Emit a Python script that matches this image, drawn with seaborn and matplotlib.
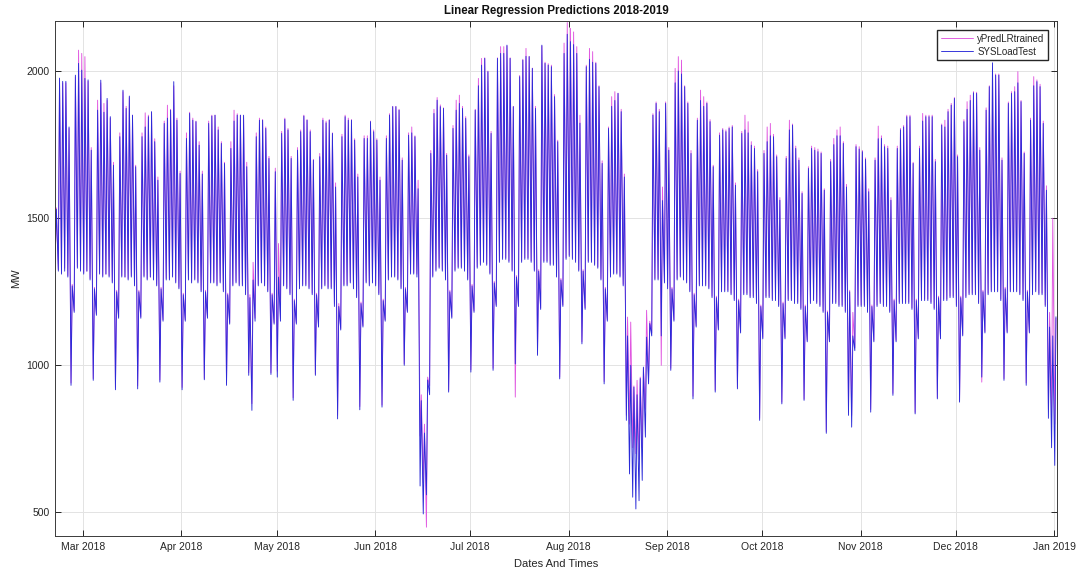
#!/usr/bin/env python3

import pandas as pd
import seaborn as sns
import matplotlib
matplotlib.use('Agg')
from matplotlib import pyplot as plt
import matplotlib.dates as mdates

# one early-morning trough and one afternoon peak per day,
# Tue 2018-02-20 .. Tue 2019-01-01, rows are weeks Mon..Sun

sys_peak = [
    1530, 1976, 1965, 1965, 1810, 1270,          # Feb 20
    1986, 2026, 2003, 1975, 1970, 1731, 1260,    # Feb 26
    1867, 1969, 1860, 1907, 1845, 1680, 1250,    # Mar 5
    1777, 1935, 1873, 1915, 1850, 1675, 1250,    # Mar 12
    1777, 1810, 1845, 1862, 1760, 1629, 1260,    # Mar 19
    1822, 1840, 1867, 1964, 1833, 1652, 1240,    # Mar 26
    1771, 1856, 1833, 1828, 1748, 1650, 1250,    # Apr 2
    1822, 1847, 1850, 1800, 1754, 1686, 1240,    # Apr 9
    1737, 1830, 1850, 1850, 1850, 1675, 1230,    # Apr 16
    1290, 1777, 1833, 1833, 1805, 1703, 1240,    # Apr 23
    1658, 1300, 1788, 1836, 1800, 1703, 1220,    # Apr 30
    1731, 1794, 1847, 1833, 1794, 1697, 1240,    # May 7
    1709, 1833, 1824, 1833, 1788, 1606, 1200,    # May 14
    1777, 1845, 1833, 1833, 1765, 1640, 1210,    # May 21
    1771, 1771, 1828, 1794, 1765, 1629, 1220,    # May 28
    1771, 1850, 1879, 1879, 1867, 1697, 1260,    # Jun 4
    1782, 1790, 1777, 1600, 880, 770, 950,       # Jun 11
    1720, 1856, 1901, 1879, 1873, 1714, 1250,    # Jun 18
    1805, 1867, 1890, 1873, 1839, 1709, 1270,    # Jun 25
    1867, 1950, 2020, 2043, 1998, 1788, 1280,    # Jul 2
    2043, 2060, 2060, 2088, 2043, 1879, 1300,    # Jul 9
    1981, 2037, 2050, 2049, 2009, 1873, 1320,    # Jul 16
    2088, 2026, 2020, 2015, 1913, 1760, 1290,    # Jul 23
    2060, 2125, 2100, 2090, 2060, 1823, 1320,    # Jul 30
    2015, 2040, 2030, 2026, 1947, 1686, 1260,    # Aug 6
    1805, 1880, 1900, 1924, 1862, 1640, 1100,    # Aug 13
    1000, 926, 900, 955, 994, 1096, 1142,        # Aug 20
    1850, 1890, 1862, 1560, 1890, 1731, 1260,    # Aug 27
    1960, 2000, 1990, 1947, 1890, 1720, 1240,    # Sep 3
    1833, 1900, 1880, 1890, 1828, 1675, 1230,    # Sep 10
    1782, 1800, 1794, 1805, 1810, 1612, 1220,    # Sep 17
    1788, 1800, 1790, 1748, 1737, 1658, 1200,    # Sep 24
    1720, 1760, 1780, 1777, 1709, 1561, 1210,    # Oct 1
    1703, 1800, 1816, 1737, 1697, 1584, 1200,    # Oct 8
    1669, 1737, 1731, 1726, 1720, 1595, 1180,    # Oct 15
    1692, 1750, 1780, 1780, 1754, 1606, 1250,    # Oct 22
    1100, 1743, 1735, 1726, 1700, 1590, 1200,    # Oct 29
    1697, 1770, 1771, 1743, 1737, 1561, 1220,    # Nov 5
    1737, 1800, 1810, 1845, 1845, 1686, 1220,    # Nov 12
    1737, 1830, 1845, 1845, 1845, 1692, 1230,    # Nov 19
    1816, 1810, 1862, 1884, 1907, 1709, 1230,    # Nov 26
    1828, 1870, 1900, 1926, 1924, 1731, 1250,    # Dec 3
    1867, 1947, 2028, 1986, 1986, 1697, 1260,    # Dec 10
    1890, 1924, 1930, 1960, 1896, 1720, 1250,    # Dec 17
    1833, 1950, 1964, 1947, 1822, 1595, 1130,    # Dec 24
    1100, 1165,                                  # Dec 31
]

sys_trough = [
    1350, 1320, 1310, 1320, 1300, 932,
    1180, 1330, 1320, 1310, 1320, 1290, 949,
    1170, 1310, 1300, 1310, 1300, 1280, 917,
    1160, 1300, 1300, 1290, 1300, 1270, 920,
    1160, 1300, 1290, 1300, 1290, 1270, 943,
    1150, 1290, 1290, 1300, 1280, 1260, 917,
    1150, 1290, 1280, 1290, 1280, 1250, 951,
    1160, 1280, 1280, 1270, 1280, 1250, 932,
    1140, 1270, 1280, 1270, 1270, 1240, 966,
    847, 1150, 1270, 1280, 1270, 1250, 969,
    1140, 960, 1150, 1270, 1260, 1240, 881,
    1140, 1260, 1270, 1270, 1260, 1240, 966,
    1130, 1260, 1270, 1260, 1260, 1200, 818,
    1120, 1270, 1270, 1280, 1260, 1230, 849,
    1130, 1280, 1270, 1280, 1270, 1240, 858,
    1150, 1290, 1300, 1300, 1290, 1260, 1000,
    1180, 1310, 1310, 1300, 590, 495, 560,
    900, 1300, 1320, 1330, 1320, 1290, 909,
    1160, 1320, 1330, 1330, 1320, 1290, 977,
    1180, 1330, 1340, 1350, 1340, 1310, 983,
    1200, 1350, 1360, 1360, 1350, 1320, 1005,
    1200, 1350, 1360, 1360, 1350, 1320, 1034,
    1190, 1350, 1350, 1340, 1340, 1300, 954,
    1200, 1360, 1370, 1360, 1350, 1320, 1073,
    1190, 1350, 1350, 1340, 1330, 1290, 937,
    1150, 1300, 1310, 1310, 1300, 1270, 813,
    631, 552, 512, 540, 609, 756, 937,
    1100, 1290, 1290, 1100, 1280, 1260, 983,
    1150, 1290, 1300, 1290, 1280, 1250, 886,
    1130, 1270, 1270, 1270, 1260, 1230, 909,
    1120, 1250, 1250, 1250, 1240, 1220, 920,
    1110, 1240, 1240, 1230, 1230, 1210, 813,
    1090, 1230, 1230, 1220, 1220, 1200, 869,
    1090, 1220, 1220, 1210, 1210, 1190, 881,
    1080, 1210, 1220, 1210, 1200, 1180, 769,
    1080, 1210, 1210, 1200, 1200, 1180, 830,
    790, 1050, 1200, 1200, 1200, 1180, 841,
    1080, 1200, 1210, 1200, 1200, 1180, 898,
    1080, 1210, 1210, 1210, 1210, 1190, 835,
    1090, 1220, 1220, 1220, 1210, 1190, 886,
    1090, 1220, 1220, 1230, 1230, 1200, 875,
    1100, 1230, 1240, 1240, 1240, 1210, 960,
    1110, 1240, 1250, 1250, 1250, 1220, 949,
    1110, 1250, 1250, 1250, 1240, 1220, 932,
    1110, 1240, 1250, 1240, 1240, 1200, 820,
    720, 660,
]

pred_peak = [
    1535, 1970, 1960, 1960, 1805, 1275,
    1980, 2071, 2060, 2049, 1965, 1740, 1265,
    1901, 1960, 1890, 1900, 1840, 1690, 1255,
    1790, 1930, 1880, 1910, 1850, 1680, 1255,
    1790, 1858, 1850, 1860, 1770, 1640, 1265,
    1830, 1884, 1870, 1950, 1840, 1660, 1245,
    1790, 1860, 1840, 1830, 1760, 1660, 1255,
    1830, 1850, 1850, 1810, 1760, 1690, 1245,
    1760, 1867, 1855, 1850, 1845, 1690, 1240,
    1350, 1790, 1840, 1835, 1810, 1710, 1245,
    1670, 1414, 1795, 1840, 1805, 1710, 1225,
    1740, 1800, 1850, 1835, 1800, 1700, 1245,
    1720, 1840, 1830, 1835, 1790, 1620, 1210,
    1785, 1850, 1840, 1835, 1770, 1650, 1215,
    1780, 1780, 1830, 1800, 1770, 1640, 1225,
    1780, 1855, 1880, 1880, 1870, 1705, 1265,
    1790, 1810, 1780, 1629, 900, 800, 960,
    1730, 1870, 1910, 1885, 1875, 1720, 1255,
    1815, 1901, 1918, 1880, 1845, 1715, 1275,
    1870, 1975, 2043, 2045, 2000, 1795, 1285,
    2045, 2083, 2083, 2085, 2045, 1880, 1305,
    1985, 2040, 2077, 2050, 2010, 1880, 1325,
    2085, 2030, 2025, 2020, 1920, 1765, 1295,
    2095, 2165, 2145, 2133, 2083, 1850, 1325,
    2020, 2077, 2066, 2030, 1950, 1695, 1265,
    1810, 1913, 1930, 1925, 1870, 1650, 1164,
    1147, 930, 949, 960, 990, 1187, 1150,
    1855, 1895, 1870, 1606, 1895, 1740, 1265,
    2009, 2049, 2037, 1950, 1895, 1730, 1245,
    1840, 1935, 1913, 1895, 1835, 1680, 1235,
    1790, 1805, 1800, 1810, 1815, 1620, 1225,
    1795, 1850, 1828, 1760, 1745, 1665, 1205,
    1730, 1810, 1822, 1785, 1715, 1570, 1215,
    1710, 1833, 1820, 1745, 1705, 1590, 1205,
    1675, 1745, 1740, 1735, 1725, 1600, 1185,
    1700, 1771, 1800, 1810, 1760, 1615, 1255,
    1180, 1750, 1743, 1730, 1705, 1600, 1205,
    1705, 1813, 1780, 1750, 1745, 1570, 1225,
    1745, 1805, 1815, 1850, 1850, 1690, 1225,
    1745, 1856, 1850, 1850, 1850, 1700, 1235,
    1820, 1833, 1870, 1890, 1910, 1715, 1235,
    1835, 1896, 1918, 1930, 1928, 1740, 1255,
    1875, 1950, 2010, 1990, 1990, 1705, 1265,
    1895, 1930, 1947, 1998, 1900, 1725, 1255,
    1840, 1981, 1970, 1955, 1830, 1610, 1180,
    1500, 1160,
]

pred_trough = [
    1345, 1325, 1315, 1330, 1305, 940,
    1185, 1335, 1325, 1315, 1320, 1295, 955,
    1175, 1315, 1305, 1310, 1305, 1285, 925,
    1165, 1305, 1300, 1295, 1305, 1275, 930,
    1165, 1305, 1295, 1300, 1295, 1275, 950,
    1155, 1295, 1295, 1305, 1285, 1265, 925,
    1155, 1295, 1285, 1295, 1285, 1255, 955,
    1165, 1285, 1285, 1275, 1285, 1255, 940,
    1145, 1275, 1285, 1275, 1275, 1245, 975,
    870, 1160, 1275, 1285, 1275, 1255, 975,
    1145, 980, 1160, 1275, 1265, 1245, 890,
    1145, 1265, 1275, 1275, 1265, 1245, 970,
    1135, 1265, 1275, 1265, 1265, 1210, 830,
    1125, 1275, 1275, 1285, 1265, 1235, 860,
    1135, 1285, 1275, 1285, 1275, 1245, 865,
    1155, 1295, 1305, 1305, 1295, 1265, 1005,
    1185, 1315, 1315, 1310, 760, 600, 450,
    930, 1305, 1325, 1335, 1325, 1295, 915,
    1165, 1325, 1335, 1335, 1325, 1295, 985,
    1185, 1335, 1345, 1355, 1345, 1315, 990,
    1205, 1355, 1365, 1365, 1355, 1325, 892,
    1205, 1355, 1365, 1365, 1355, 1325, 1040,
    1195, 1355, 1355, 1345, 1345, 1305, 960,
    1205, 1365, 1375, 1365, 1355, 1325, 1080,
    1195, 1355, 1355, 1345, 1335, 1295, 945,
    1155, 1305, 1315, 1315, 1305, 1275, 830,
    800, 720, 700, 680, 720, 850, 950,
    1110, 1295, 1295, 1000, 1285, 1265, 990,
    1155, 1295, 1305, 1295, 1285, 1255, 895,
    1135, 1275, 1275, 1275, 1265, 1235, 915,
    1125, 1255, 1255, 1255, 1245, 1225, 925,
    1115, 1245, 1245, 1235, 1235, 1215, 820,
    1095, 1235, 1235, 1225, 1225, 1205, 875,
    1095, 1225, 1225, 1215, 1215, 1195, 885,
    1085, 1215, 1225, 1215, 1205, 1185, 775,
    1085, 1215, 1215, 1205, 1205, 1185, 840,
    830, 1060, 1205, 1205, 1205, 1185, 850,
    1085, 1205, 1215, 1205, 1205, 1185, 905,
    1085, 1215, 1215, 1215, 1215, 1195, 840,
    1095, 1225, 1225, 1225, 1215, 1195, 890,
    1095, 1225, 1225, 1235, 1235, 1205, 880,
    1105, 1235, 1245, 1245, 1245, 1215, 943,
    1115, 1245, 1255, 1255, 1255, 1225, 955,
    1115, 1255, 1255, 1255, 1245, 1225, 940,
    1115, 1245, 1255, 1245, 1245, 1205, 850,
    840, 800,
]

days = pd.date_range('2018-02-20', '2019-01-01', freq='D')


def series(troughs, peaks):
    df = pd.DataFrame({
        'time': list(days + pd.Timedelta(hours=5)) + list(days + pd.Timedelta(hours=14)),
        'MW': list(troughs) + list(peaks),
    })
    return df.sort_values('time').reset_index(drop=True)


def plot(out_file):
    pred = series(pred_trough, pred_peak)
    test = series(sys_trough, sys_peak)

    sns.set_theme(style="ticks")
    plt.rcParams['font.family'] = ['Liberation Sans', 'DejaVu Sans']

    f = plt.figure(figsize=(10.81, 5.76), dpi=100)
    ax = f.add_axes([0.0509, 0.0694, 0.9269, 0.8941])

    sns.lineplot(data=pred, x='time', y='MW', color='#e055e0', linewidth=0.65,
                 estimator=None, sort=False, label='yPredLRtrained', ax=ax)
    sns.lineplot(data=test, x='time', y='MW', color='#2a2ad8', linewidth=0.65,
                 estimator=None, sort=False, label='SYSLoadTest', ax=ax)

    ax.set_xlim(pd.Timestamp('2018-02-20 04:00'), pd.Timestamp('2019-01-01 22:00'))
    ax.set_ylim(420, 2170)
    ax.set_yticks([500, 1000, 1500, 2000])

    ax.xaxis.set_major_locator(mdates.MonthLocator())
    ax.xaxis.set_major_formatter(mdates.DateFormatter('%b %Y'))

    ax.grid(True, color='#e3e3e3', linewidth=0.7)
    ax.set_axisbelow(True)
    for s in ax.spines.values():
        s.set_color('#3a3a3a')
        s.set_linewidth(0.7)
    ax.tick_params(direction='in', top=True, right=True, length=4, width=0.7,
                   color='#262626', labelcolor='#262626', labelsize=7.5, pad=4)

    ax.set_title('Linear Regression Predictions 2018-2019', fontsize=8.3,
                 fontweight='bold', color='#111111', pad=5)
    ax.set_xlabel('Dates And Times', fontsize=8, color='#262626', labelpad=5)
    ax.set_ylabel('MW', fontsize=8, color='#262626', labelpad=4)

    ax.legend(loc='upper right', fontsize=7, handlelength=3.3, handletextpad=0.4,
              borderaxespad=0.9, borderpad=0.4, labelspacing=0.3,
              fancybox=False, framealpha=1, edgecolor='#262626')

    f.savefig(out_file, dpi=100)


if __name__ == '__main__':
    plot('out.png')
